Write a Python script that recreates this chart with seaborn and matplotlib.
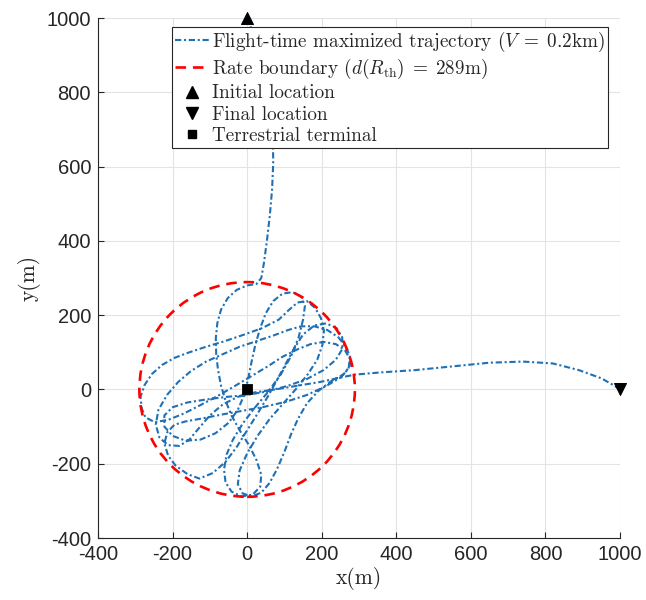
import matplotlib
matplotlib.use("Agg")
import matplotlib.pyplot as plt
from matplotlib.lines import Line2D
from matplotlib.patches import Circle
import pandas as pd
import seaborn as sns

# UAV trajectory (m): from the initial location down into the rate disc,
# looping around the terminal, then out to the final location
traj_x = [0, 8, 20, 35, 50, 62, 69, 70, 67, 61,
          53, 45, 38, 25, 0, -28, -52, -70, -80, -84,
          -83, -78, -70, -58, -42, -20, 5, 25, 38, 35,
          15, -15, -42, -58, -62, -55, -38, -12, 20, 55,
          90, 118, 138, 150, 155, 145, 122, 95, 70, 50,
          35, 22, 12, 3, -8, -25, -50, -85, -125, -165,
          -200, -222, -222, -200, -160, -110, -55, 0, 55, 110,
          160, 205, 238, 256, 255, 240, 212, 180, 150, 125,
          103, 80, 55, 28, 0, -28, -58, -92, -128, -160,
          -192, -212, -222, -214, -195, -165, -120, -70, -15, 45,
          105, 160, 210, 250, 272, 276, 262, 238, 205, 170,
          135, 95, 55, 10, -35, -80, -125, -170, -212, -248,
          -273, -283, -286, -275, -255, -228, -195, -155, -110, -60,
          -10, 40, 85, 112, 135, 160, 182, 198, 206, 202,
          188, 162, 130, 95, 60, 28, 0, -20, -25, -12,
          12, 38, 60, 80, 100, 118, 137, 160, 190, 225,
          258, 275, 276, 265, 245, 215, 180, 145, 110, 70,
          25, -20, -65, -110, -150, -185, -215, -238, -245, -235,
          -212, -182, -155, -130, -100, -65, -25, 20, 75, 135,
          195, 250, 290, 360, 450, 550, 650, 740, 820, 890,
          950, 985, 1000]
traj_y = [1000, 980, 945, 895, 830, 755, 680, 610, 540, 470,
          400, 340, 300, 284, 280, 268, 246, 215, 178, 138,
          95, 52, 10, -30, -70, -110, -150, -190, -230, -262,
          -283, -288, -275, -250, -215, -175, -135, -92, -50, -8,
          40, 90, 140, 188, 225, 250, 262, 258, 238, 205,
          165, 120, 75, 30, -15, -55, -90, -118, -135, -138,
          -125, -100, -70, -48, -35, -27, -20, -15, -5, 10,
          28, 52, 80, 110, 140, 165, 178, 172, 148, 108,
          68, 25, -20, -65, -110, -155, -195, -225, -240, -228,
          -205, -178, -145, -115, -95, -86, -78, -68, -58, -47,
          -33, -15, 8, 32, 56, 82, 106, 122, 128, 122,
          108, 88, 62, 35, 8, -18, -42, -65, -82, -88,
          -75, -50, -20, 12, 42, 66, 85, 100, 115, 130,
          147, 165, 188, 214, 234, 238, 220, 192, 158, 120,
          80, 40, 0, -40, -80, -125, -172, -218, -255, -280,
          -288, -278, -252, -215, -168, -120, -78, -38, -5, 22,
          40, 62, 88, 115, 140, 160, 170, 170, 160, 145,
          130, 115, 95, 75, 50, 20, -15, -55, -95, -130,
          -150, -152, -135, -105, -70, -40, -20, -8, 0, 10,
          20, 32, 40, 46, 52, 62, 72, 75, 70, 52,
          30, 10, 0]

initial_xy = (0, 1000)
final_xy = (1000, 0)
terminal_xy = (0, 0)
rate_radius = 289          # d(R_th) in metres
speed_label = "0.2"        # V in km

x_ticks = list(range(-400, 1001, 200))
y_ticks = list(range(-400, 1001, 200))

traj_color = "#1f70b4"
traj_ls = (0, (3, 1.3, 1, 1.3))
ring_ls = (0, (4, 2.6))

sns.set_style("ticks")
plt.rcParams.update({
    "font.family": ["Liberation Sans", "DejaVu Sans"],
    "mathtext.fontset": "cm",
    "axes.unicode_minus": False,
})

fig = plt.figure(figsize=(6.46, 6.0), dpi=100)
ax = fig.add_axes([0.1517, 0.1033, 0.808, 0.8667])

df = pd.DataFrame({"x": traj_x, "y": traj_y})
sns.lineplot(data=df, x="x", y="y", sort=False, estimator=None, ax=ax,
             color=traj_color, lw=1.5, linestyle=traj_ls, zorder=3)

ax.add_patch(Circle(terminal_xy, rate_radius, fill=False, edgecolor="red",
                    lw=1.9, linestyle=ring_ls, zorder=4))

sns.scatterplot(x=[initial_xy[0]], y=[initial_xy[1]], marker="^", s=75,
                color="black", edgecolor="black", ax=ax, zorder=5, clip_on=False)
sns.scatterplot(x=[final_xy[0]], y=[final_xy[1]], marker="v", s=75,
                color="black", edgecolor="black", ax=ax, zorder=5, clip_on=False)
sns.scatterplot(x=[terminal_xy[0]], y=[terminal_xy[1]], marker="s", s=55,
                color="black", edgecolor="black", ax=ax, zorder=5, clip_on=False)

ax.set_xlim(-400, 1000)
ax.set_ylim(-400, 1000)
ax.set_xticks(x_ticks)
ax.set_yticks(y_ticks)
ax.set_axisbelow(True)
ax.grid(True, color="#e3e3e3", lw=0.8)
for side in ("top", "right"):
    ax.spines[side].set_visible(False)
for side in ("left", "bottom"):
    ax.spines[side].set_color("#262626")
    ax.spines[side].set_linewidth(0.8)
ax.tick_params(direction="in", length=4, width=0.8, color="#262626",
               labelcolor="#262626", labelsize=14.5, pad=5)

ax.set_xlabel("x(m)", fontfamily="cmr10", fontsize=15.5, color="#262626", labelpad=2)
ax.set_ylabel("y(m)", fontfamily="cmr10", fontsize=15.5, color="#262626", labelpad=4)

handles = [
    Line2D([], [], color=traj_color, lw=1.5, linestyle=traj_ls),
    Line2D([], [], color="red", lw=1.9, linestyle=ring_ls),
    Line2D([], [], color="black", marker="^", ls="none", ms=8),
    Line2D([], [], color="black", marker="v", ls="none", ms=8),
    Line2D([], [], color="black", marker="s", ls="none", ms=6),
]
labels = [
    r"Flight-time maximized trajectory ($V\;=\;%s$km)" % speed_label,
    r"Rate boundary ($d(R_{\mathrm{th}})\;=\;%d$m)" % rate_radius,
    "Initial location",
    "Final location",
    "Terrestrial terminal",
]
leg = ax.legend(handles, labels, loc="upper right", bbox_to_anchor=(0.977, 0.983),
                borderaxespad=0, prop={"family": "cmr10", "size": 13.8},
                frameon=True, fancybox=False, framealpha=1, edgecolor="#262626",
                handlelength=1.8, handletextpad=0.15, labelspacing=0.17,
                borderpad=0.15)
leg.get_frame().set_linewidth(0.8)
leg.set_zorder(6)

fig.savefig("out.png", dpi=100)
